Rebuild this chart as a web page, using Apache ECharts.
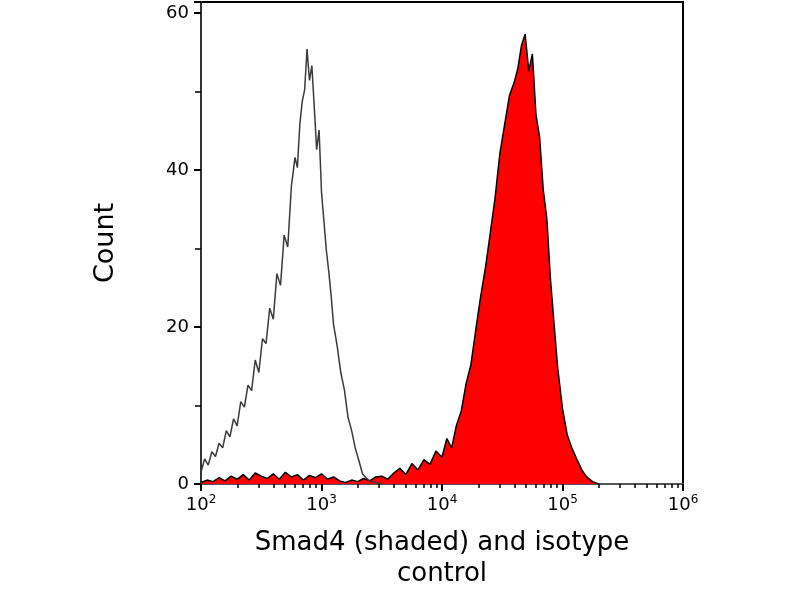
<!DOCTYPE html>
<html>
<head>
<meta charset="UTF-8">
<style>body{margin:0;background:#fff}#chart{width:800px;height:600px}</style>
</head>
<body>
<div id="chart"></div>
<script src="https://cdn.jsdelivr.net/npm/echarts@6/dist/echarts.min.js"></script>
<script>
// exponents (log10 of fluorescence) and counts
var isoExp = [2.00,2.03,2.06,2.09,2.12,2.15,2.18,2.21,2.24,2.27,2.30,2.33,2.36,2.39,2.42,2.45,2.48,2.51,2.54,2.57,2.60,2.63,2.66,2.69,2.72,2.75,2.78,2.80,2.82,2.84,2.86,2.88,2.90,2.92,2.94,2.96,2.98,3.00,3.02,3.04,3.06,3.08,3.10,3.13,3.16,3.19,3.22,3.25,3.28,3.31,3.34,3.37,3.40,3.45,3.50];
var isoCnt = [1.5,3.2,2.4,4.1,3.5,5.2,4.6,6.8,6.0,8.3,7.4,10.5,9.8,12.6,11.9,15.8,14.2,18.5,17.9,22.4,21.0,26.8,25.3,31.7,30.2,37.9,41.6,40.3,45.8,48.7,50.2,55.4,51.4,53.3,48.0,42.6,45.1,37.2,33.5,29.8,27.1,24.0,20.3,17.6,14.2,12.0,8.5,6.8,4.6,3.0,1.3,0.8,0.4,0.2,0];
var smadExp = [2.00,2.05,2.10,2.15,2.20,2.25,2.30,2.35,2.40,2.45,2.50,2.55,2.60,2.65,2.70,2.75,2.80,2.85,2.90,2.95,3.00,3.05,3.10,3.15,3.20,3.25,3.30,3.35,3.40,3.45,3.50,3.55,3.60,3.65,3.70,3.75,3.80,3.85,3.90,3.95,4.00,4.04,4.08,4.12,4.16,4.20,4.24,4.28,4.32,4.36,4.40,4.44,4.48,4.52,4.56,4.60,4.63,4.66,4.69,4.72,4.75,4.78,4.81,4.84,4.87,4.90,4.93,4.96,5.00,5.04,5.08,5.12,5.16,5.20,5.25,5.30];
var smadCnt = [0.2,0.5,0.3,0.8,0.4,1.0,0.6,1.2,0.5,1.4,1.0,0.7,1.3,0.6,1.5,0.9,1.2,0.5,1.1,0.8,1.3,0.6,0.9,0.4,0.2,0.5,0.3,0.7,0.4,0.9,1.0,0.6,1.4,2.0,1.2,2.6,1.8,3.1,2.5,4.2,3.4,5.8,4.6,7.5,9.3,12.8,15.2,19.6,23.8,27.5,31.9,36.4,42.1,45.8,49.5,51.2,53.0,55.9,57.3,52.6,54.8,47.0,44.2,37.5,33.8,26.1,20.4,14.8,9.6,6.2,4.5,3.1,1.8,0.9,0.3,0];
var xTickExp = [2,3,4,5,6];
var yTicks = [0,20,40,60];

function toPts(ex, cnt){ return ex.map(function(e,i){ return [Math.pow(10,e), cnt[i]]; }); }

var chart = echarts.init(document.getElementById('chart'));
chart.setOption({
  animation:false,
  grid:{left:201,right:117,top:2,bottom:116,show:true,borderColor:'#000',borderWidth:2},
  xAxis:{
    type:'log',logBase:10,min:100,max:1e6,
    name:'Smad4 (shaded) and isotype\ncontrol',nameLocation:'middle',nameGap:44,
    nameTextStyle:{fontFamily:'DejaVu Sans',fontSize:26,color:'#000',lineHeight:31},
    axisLine:{lineStyle:{color:'#555',width:2}},
    axisTick:{length:7,lineStyle:{color:'#000',width:2}},
    minorTick:{show:true,splitNumber:9,length:4,lineStyle:{color:'#000',width:1.5}},
    splitLine:{show:false},
    axisLabel:{fontFamily:'DejaVu Sans',fontSize:18,color:'#000',margin:10,
      formatter:function(v){ var e=Math.round(Math.log10(v)); return xTickExp.indexOf(e)>=0?'10{s|'+e+'}':''; },
      rich:{s:{fontSize:12,verticalAlign:'top',padding:[0,0,10,0],fontFamily:'DejaVu Sans',color:'#000'}}}
  },
  yAxis:{
    type:'value',min:0,max:61.4,interval:20,
    name:'Count',nameLocation:'middle',nameGap:82,
    nameTextStyle:{fontFamily:'DejaVu Sans',fontSize:27,color:'#000'},
    axisLine:{show:true,lineStyle:{color:'#333',width:2}},
    axisTick:{length:7,lineStyle:{color:'#000',width:2}},
    minorTick:{show:true,splitNumber:2,length:6,lineStyle:{color:'#000',width:1.5}},
    splitLine:{show:false},
    axisLabel:{fontFamily:'DejaVu Sans',fontSize:18,color:'#000',margin:12,
      formatter:function(v){ return yTicks.indexOf(v)>=0?String(v):''; }}
  },
  series:[
    {type:'line',data:toPts(smadExp,smadCnt),symbol:'none',
     lineStyle:{color:'#000',width:1.5},areaStyle:{color:'#ff0000',opacity:1}},
    {type:'line',data:toPts(isoExp,isoCnt),symbol:'none',
     lineStyle:{color:'#3a3a3a',width:1.5}}
  ]
});
</script>
</body>
</html>
